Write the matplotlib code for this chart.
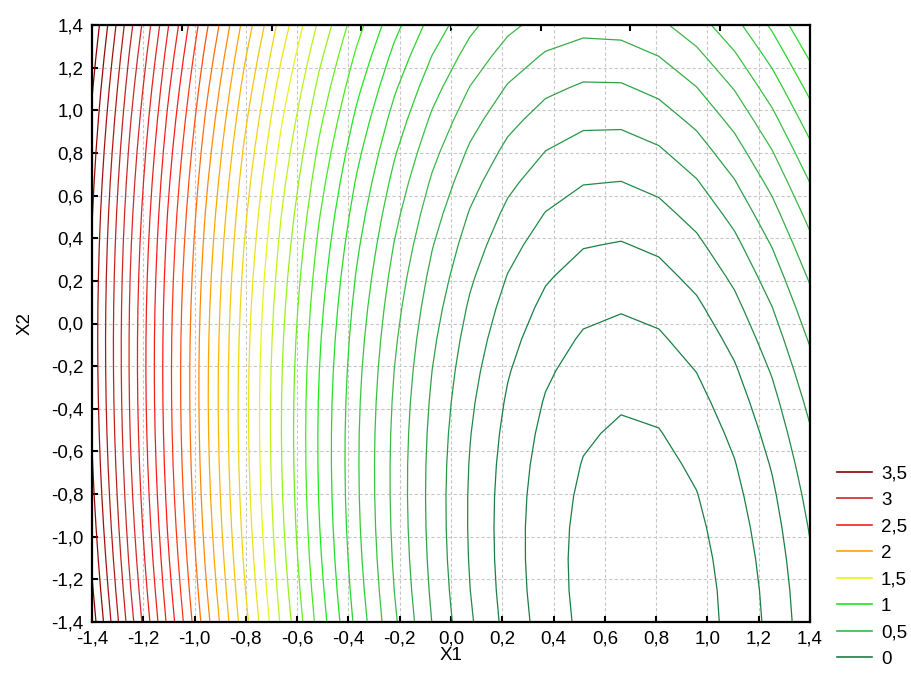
import matplotlib
matplotlib.use("Agg")
import matplotlib.pyplot as plt
import numpy as np
from matplotlib.colors import LinearSegmentedColormap, Normalize
from matplotlib.lines import Line2D

# fitted response surface: z = b0 + b1*x1 + b2*x2 + b11*x1^2 + b22*x2^2 + b12*x1*x2
b0 = 0.247
b1 = -1.085
b2 = 0.174
b11 = 0.82
b22 = 0.1012
b12 = 0.115

# coarse evaluation grid (20 x 20 like the original)
x1_grid = np.linspace(-1.4, 1.4, 20)
x2_grid = np.linspace(-1.4, 1.4, 20)

# contour levels every 0.1
levels = np.round(np.arange(-0.2, 3.65, 0.1), 1)

# colour legend
legend_values = [3.5, 3.0, 2.5, 2.0, 1.5, 1.0, 0.5, 0.0]
legend_labels = ["3,5", "3", "2,5", "2", "1,5", "1", "0,5", "0"]
stop_values = [0.0, 0.5, 1.0, 1.5, 2.0, 2.5, 3.0, 3.5]
stop_colors = ["#1a7f45", "#3cb84a", "#1ee61e", "#e5f51a",
               "#ffa500", "#ff1a1a", "#cc2b2b", "#8b0000"]

ticks = np.round(np.arange(-1.4, 1.41, 0.2), 1)
top_ticks = [-1.05, -0.7, -0.35, 0.0, 0.35, 0.7, 1.05]


def comma(v):
    v = 0.0 if abs(v) < 1e-9 else v
    return f"{v:.1f}".replace(".", ",")


plt.rcParams['font.family'] = ['Liberation Sans', 'DejaVu Sans']
plt.rcParams['font.size'] = 13.5

cmap = LinearSegmentedColormap.from_list(
    "stat", list(zip([v / 3.5 for v in stop_values], stop_colors)))
norm = Normalize(0.0, 3.5, clip=True)

X1, X2 = np.meshgrid(x1_grid, x2_grid)
Z = b0 + b1 * X1 + b2 * X2 + b11 * X1 ** 2 + b22 * X2 ** 2 + b12 * X1 * X2

fig = plt.figure(figsize=(9.12, 6.9), dpi=100)
ax = fig.add_axes([92 / 912, 1 - 622 / 690, (810 - 92) / 912, (622 - 25) / 690])

ax.contour(X1, X2, Z, levels=levels,
           colors=[cmap(norm(l)) for l in levels], linewidths=0.9)

ax.set_xlim(-1.4, 1.4)
ax.set_ylim(-1.4, 1.4)
ax.set_xticks(ticks)
ax.set_yticks(ticks)
ax.set_xticklabels([comma(t) for t in ticks])
ax.set_yticklabels([comma(t) for t in ticks])
ax.tick_params(direction="in", length=4, width=1.5, pad=6)

sec = ax.secondary_xaxis("top")
sec.set_xticks(top_ticks)
sec.set_xticklabels([])
sec.tick_params(direction="in", length=4, width=1.5)
sec.spines["top"].set_visible(False)

ax.grid(True, color="#c8c8c8", linestyle=(0, (3, 2)), linewidth=0.8)
ax.set_axisbelow(True)
for s in ax.spines.values():
    s.set_linewidth(1.6)

ax.set_xlabel("X1", labelpad=0)
ax.set_ylabel("X2", labelpad=13)

handles = [Line2D([0], [0], color=cmap(norm(v)), lw=1.2) for v in legend_values]
ax.legend(handles, legend_labels, loc="upper left", frameon=False,
          bbox_to_anchor=(837 / 912, 1 - 465 / 690), bbox_transform=fig.transFigure,
          handlelength=1.85, handletextpad=0.5, labelspacing=0.5, borderaxespad=0,
          borderpad=0)

fig.savefig("out.png", dpi=100)
